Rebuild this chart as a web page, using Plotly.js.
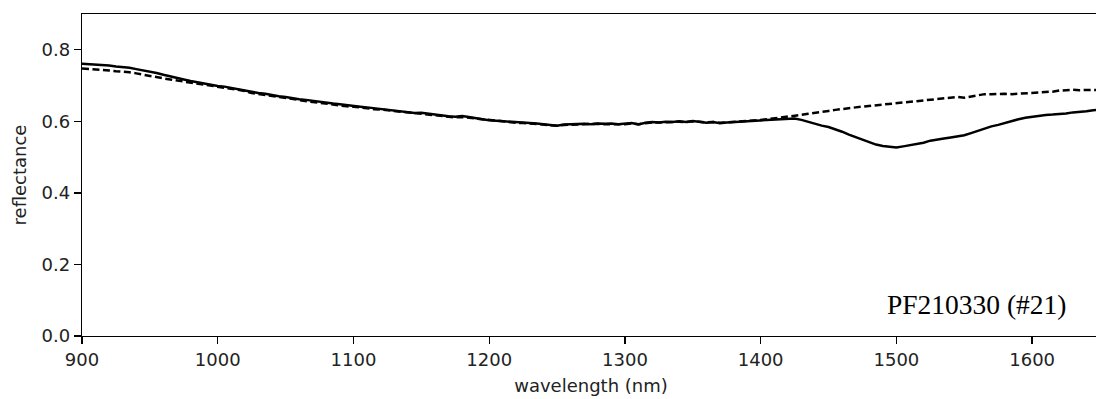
<!DOCTYPE html>
<html>
<head>
<meta charset="utf-8">
<script src="https://cdn.plot.ly/plotly-3.0.1.min.js"></script>
<style>
html,body{margin:0;padding:0;overflow:hidden;background:#fff;width:1096px;height:399px;}
#chart{width:1110px;height:399px;}
</style>
</head>
<body>
<div id="chart"></div>
<script>
// wavelength samples (nm)
const wavelength = [
900,905,910,915,920,925,930,935,940,945,950,955,960,965,970,975,980,985,990,995,
1000,1005,1010,1015,1020,1025,1030,1035,1040,1045,1050,1055,1060,1065,1070,1075,1080,1085,1090,1095,
1100,1105,1110,1115,1120,1125,1130,1135,1140,1145,1150,1155,1160,1165,1170,1175,1180,1185,1190,1195,
1200,1205,1210,1215,1220,1225,1230,1235,1240,1245,1250,1255,1260,1265,1270,1275,1280,1285,1290,1295,
1300,1305,1310,1315,1320,1325,1330,1335,1340,1345,1350,1355,1360,1365,1370,1375,1380,1385,1390,1395,
1400,1405,1410,1415,1420,1425,1430,1435,1440,1445,1450,1455,1460,1465,1470,1475,1480,1485,1490,1495,
1500,1505,1510,1515,1520,1525,1530,1535,1540,1545,1550,1555,1560,1565,1570,1575,1580,1585,1590,1595,
1600,1605,1610,1615,1620,1625,1630,1635,1640,1645,1650
];
// solid spectrum
const reflSolid = [
.761,.760,.758,.757,.756,.753,.752,.750,.746,.743,.740,.735,.730,.725,.721,.717,.713,.709,.706,.703,
.699,.697,.693,.690,.687,.683,.679,.677,.673,.670,.668,.664,.662,.660,.657,.655,.652,.650,.648,.645,
.644,.641,.639,.637,.635,.633,.630,.628,.625,.623,.624,.621,.618,.617,.614,.613,.615,.612,.608,.606,
.603,.602,.600,.598,.597,.596,.595,.594,.592,.590,.588,.591,.592,.591,.593,.592,.594,.593,.594,.592,
.593,.595,.591,.596,.598,.597,.599,.598,.600,.598,.601,.599,.596,.598,.595,.597,.598,.600,.601,.602,
.603,.604,.605,.606,.607,.608,.604,.598,.592,.588,.584,.578,.571,.563,.556,.548,.541,.535,.531,.529,
.527,.530,.533,.536,.540,.546,.550,.552,.555,.558,.561,.567,.574,.580,.586,.590,.596,.601,.606,.610,
.613,.617,.618,.619,.620,.622,.625,.626,.628,.631,.633
];
// dashed spectrum
const reflDashed = [
.748,.747,.745,.744,.742,.740,.739,.737,.734,.730,.727,.723,.720,.717,.714,.711,.708,.705,.702,.699,
.696,.693,.690,.688,.685,.679,.676,.673,.670,.667,.665,.661,.659,.657,.654,.652,.649,.647,.645,.642,
.641,.638,.636,.634,.633,.631,.628,.626,.623,.621,.620,.618,.616,.614,.612,.611,.612,.610,.607,.605,
.602,.601,.599,.597,.596,.595,.594,.593,.591,.589,.588,.590,.591,.590,.592,.592,.593,.592,.593,.592,
.592,.594,.592,.595,.597,.597,.598,.598,.599,.598,.600,.599,.597,.598,.596,.597,.598,.600,.601,.602,
.604,.606,.608,.610,.613,.615,.618,.621,.623,.626,.629,.632,.635,.637,.639,.641,.643,.645,.648,.650,
.651,.652,.654,.656,.658,.662,.664,.666,.667,.668,.666,.670,.674,.676,.676,.677,.677,.676,.677,.679,
.680,.681,.681,.683,.686,.688,.688,.687,.688,.688,.687
];
const xTicks = [900,1000,1100,1200,1300,1400,1500,1600];
const yTicks = [0.0,0.2,0.4,0.6,0.8];
const sampleLabel = 'PF210330 (#21)';

const traces = [
  {x: wavelength, y: reflSolid, type: 'scatter', mode: 'lines',
   line: {color: '#000', width: 2.5}, showlegend: false, hoverinfo: 'skip'},
  {x: wavelength, y: reflDashed, type: 'scatter', mode: 'lines',
   line: {color: '#000', width: 2.5, dash: '7px,3.5px'}, showlegend: false, hoverinfo: 'skip'}
];

const axisCommon = {
  showgrid: false, zeroline: false, showline: true, linecolor: '#000', linewidth: 1.3,
  mirror: true, ticks: 'outside', ticklen: 7, tickwidth: 1.3, tickcolor: '#000',
  tickfont: {family: 'DejaVu Sans', size: 18, color: '#222'}
};

const layout = {
  width: 1110, height: 399,
  margin: {l: 82, r: 10, t: 14, b: 63},
  paper_bgcolor: '#fff', plot_bgcolor: '#fff',
  xaxis: Object.assign({}, axisCommon, {
    range: [900, 1650], tickvals: xTicks, ticktext: xTicks.map(String),
    title: {text: 'wavelength (nm)', font: {family: 'DejaVu Sans', size: 18, color: '#222'}, standoff: 10}
  }),
  yaxis: Object.assign({}, axisCommon, {
    range: [0, 0.9], tickvals: yTicks, ticktext: yTicks.map(v => v.toFixed(1)),
    title: {text: 'reflectance', font: {family: 'DejaVu Sans', size: 18, color: '#222'}, standoff: 10}
  }),
  annotations: [{
    text: sampleLabel, xref: 'x', yref: 'y', x: 1627, y: 0.088,
    xanchor: 'right', yanchor: 'middle', showarrow: false,
    font: {family: 'Liberation Serif', size: 27.5, color: '#000'}
  }]
};

Plotly.newPlot('chart', traces, layout, {staticPlot: true, displayModeBar: false});
</script>
</body>
</html>
